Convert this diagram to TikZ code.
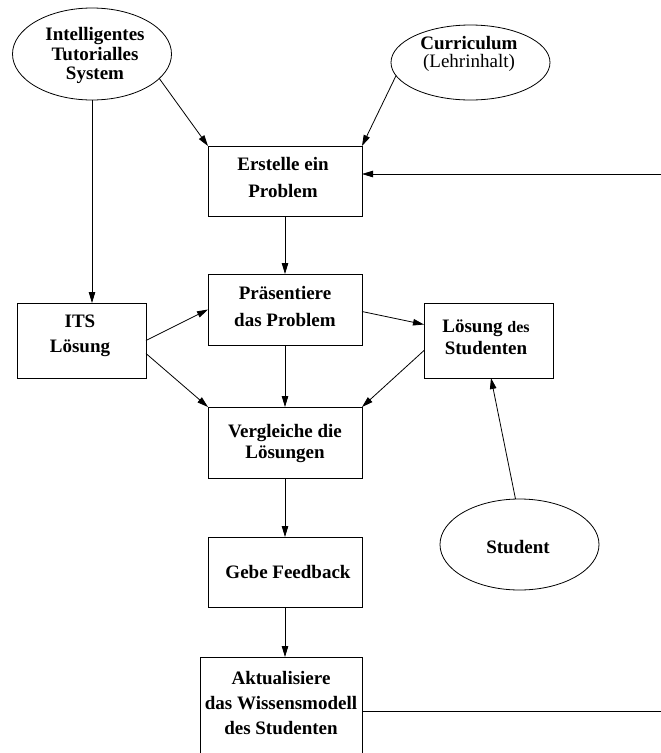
\documentclass[tikz,border=0pt]{standalone}
\usepackage{fontspec}
\setmainfont{Liberation Serif}
\usetikzlibrary{arrows.meta,shapes.geometric}
\begin{document}
\begin{tikzpicture}[x=1pt,y=-1pt,
  every node/.style={inner sep=0pt, outer sep=0pt},
  rbox/.style={draw, rectangle, line width=0.8pt},
  ell/.style={draw, ellipse, line width=0.8pt},
  txt/.style={font=\fontsize{19}{21}\selectfont\bfseries, align=center},
  arr/.style={-{Triangle[length=11pt,width=6.5pt]}, line width=0.8pt},
  plain/.style={line width=0.8pt}]
\useasboundingbox (0,0) rectangle (661,753);

% ellipses
\node[ell, minimum width=159, minimum height=92] (itsE) at (92,54) {};
\node[ell, minimum width=159, minimum height=75] (curr) at (470.5,62.5) {};
\node[ell, minimum width=159, minimum height=91] (stud) at (519.5,544.5) {};

% boxes
\node[rbox, minimum width=154, minimum height=70] (erst) at (285,181) {};
\node[rbox, minimum width=154, minimum height=71] (praes) at (285,309.5) {};
\node[rbox, minimum width=129, minimum height=75] (itsbox) at (81.5,340.5) {};
\node[rbox, minimum width=129, minimum height=75] (loes) at (488.5,340.5) {};
\node[rbox, minimum width=154, minimum height=71] (vergl) at (285,442.5) {};
\node[rbox, minimum width=154, minimum height=70] (gebe) at (285,572) {};
\node[rbox, minimum width=162, minimum height=108] (akt) at (281,711) {};

% texts
\node[txt] (tItsE) at (95,55) {Intelligentes\\[-1pt]Tutorialles\\[-2pt]System};
\node[txt] (tCurr) at (469,54) {Curriculum\\[-3pt]{\mdseries (Lehrinhalt)}};
\node[txt] (tStud) at (518,547) {Student};
\node[txt] (tErst) at (283,177) {Erstelle ein\\[6pt]Problem};
\node[txt] (tPraes) at (285,306.7) {Präsentiere\\[6pt]das Problem};
\node[txt] (tIts) at (80,336) {ITS\\[4pt]Lösung};
\node[txt] (tLoes) at (486,337.5) {Lösung {\fontsize{16}{21}\selectfont des}\\[1pt]Studenten};
\node[txt] (tVergl) at (285,443) {Vergleiche die\\Lösungen};
\node[txt] (tGebe) at (288,571.5) {Gebe Feedback};
\node[txt] (tAkt) at (281,703.5) {Aktualisiere\\[4pt]das Wissensmodell\\[4pt]des Studenten};

% connectors
\coordinate (rIn) at (661,174);
\coordinate (rOut) at (661,711);
\draw[arr] (itsE.-20) -- (erst.north west);
\draw[arr] (curr.190) -- (erst.north east);
\draw[arr] (itsE.south) -- (itsE.south |- itsbox.north);
\draw[arr] (rIn) -- (rIn -| erst.east);
\draw[arr] (erst.south) -- (praes.north);
\draw[arr] (itsbox.east) -- (praes.west);
\draw[arr] ([yshift=-13pt]itsbox.east) -- (vergl.north west);
\draw[arr] ([yshift=-2pt]praes.east) -- ([yshift=16pt]loes.west);
\draw[arr] ([yshift=-10pt]loes.west) -- (vergl.north east);
\draw[arr] (praes.south) -- (vergl.north);
\draw[arr] ([xshift=-4pt]stud.north) -- ([xshift=2.5pt]loes.south);
\draw[arr] (vergl.south) -- (gebe.north);
\draw[arr] (gebe.south) -- (gebe.south |- akt.north);
\draw[plain] (akt.east) -- (rOut);
\end{tikzpicture}
\end{document}
